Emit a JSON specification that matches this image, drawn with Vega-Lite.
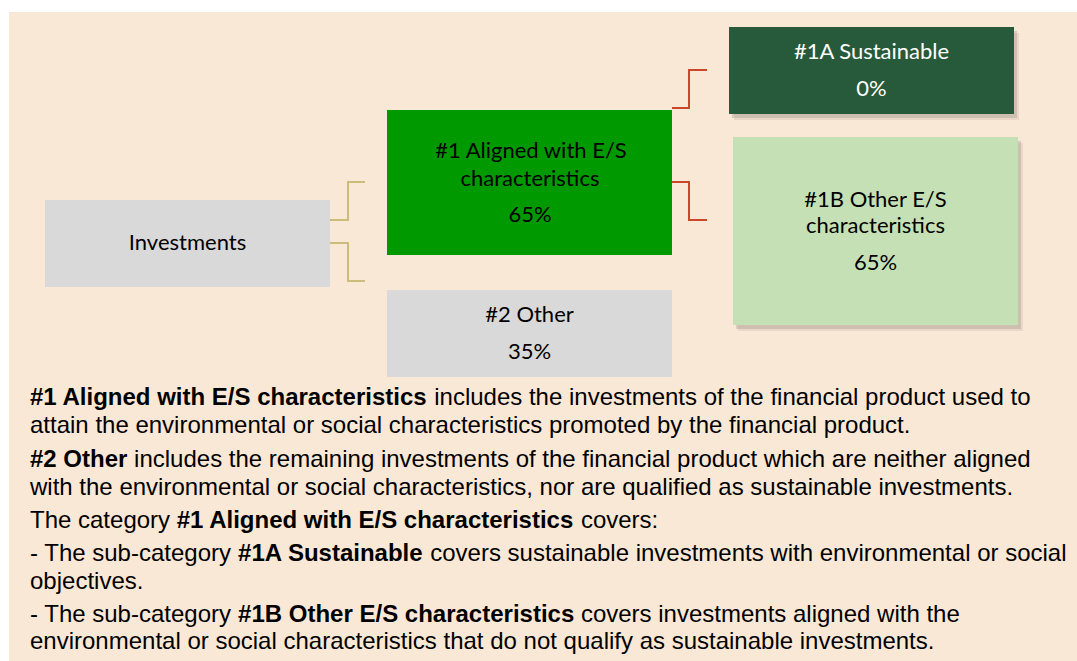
{
  "$schema": "https://vega.github.io/schema/vega-lite/v6.json",
  "width": 1077,
  "height": 661,
  "autosize": {"type": "none"},
  "padding": 0,
  "background": "white",
  "config": {"view": {"stroke": null}},
  "datasets": {
    "boxes": [
      {"box": "Panel", "x1": 9, "x2": 1077, "y1": 12, "y2": 661},
      {"box": "Investments", "x1": 45, "x2": 330, "y1": 200, "y2": 287},
      {"box": "Aligned", "x1": 387, "x2": 672, "y1": 110, "y2": 255},
      {"box": "Other", "x1": 387, "x2": 672, "y1": 290, "y2": 377},
      {"box": "Sustainable", "x1": 729, "x2": 1014, "y1": 27, "y2": 114},
      {"box": "OtherES", "x1": 733, "x2": 1018, "y1": 137, "y2": 325}
    ],
    "links": [
      {"path": "a", "link": "level1", "step": 1, "x": 330, "y": 220},
      {"path": "a", "link": "level1", "step": 2, "x": 348, "y": 220},
      {"path": "a", "link": "level1", "step": 3, "x": 348, "y": 182},
      {"path": "a", "link": "level1", "step": 4, "x": 365, "y": 182},
      {"path": "b", "link": "level1", "step": 1, "x": 330, "y": 243},
      {"path": "b", "link": "level1", "step": 2, "x": 348, "y": 243},
      {"path": "b", "link": "level1", "step": 3, "x": 348, "y": 281},
      {"path": "b", "link": "level1", "step": 4, "x": 365, "y": 281},
      {"path": "c", "link": "level2", "step": 1, "x": 672, "y": 108},
      {"path": "c", "link": "level2", "step": 2, "x": 689, "y": 108},
      {"path": "c", "link": "level2", "step": 3, "x": 689, "y": 70},
      {"path": "c", "link": "level2", "step": 4, "x": 707, "y": 70},
      {"path": "d", "link": "level2", "step": 1, "x": 672, "y": 182},
      {"path": "d", "link": "level2", "step": 2, "x": 689, "y": 182},
      {"path": "d", "link": "level2", "step": 3, "x": 689, "y": 220},
      {"path": "d", "link": "level2", "step": 4, "x": 707, "y": 220}
    ],
    "labels": [
      {"box": "Investments", "text": "Investments", "x": 187.5, "y": 250},
      {"box": "Aligned", "text": "#1 Aligned with E/S", "x": 531, "y": 158},
      {"box": "Aligned", "text": "characteristics", "x": 530, "y": 186},
      {"box": "Aligned", "text": "65%", "x": 530, "y": 222},
      {"box": "Other", "text": "#2 Other", "x": 529.5, "y": 322},
      {"box": "Other", "text": "35%", "x": 529.5, "y": 359},
      {"box": "Sustainable", "text": "#1A Sustainable", "x": 871.5, "y": 59},
      {"box": "Sustainable", "text": "0%", "x": 871.5, "y": 96},
      {"box": "OtherES", "text": "#1B Other E/S", "x": 875.5, "y": 207},
      {"box": "OtherES", "text": "characteristics", "x": 875.5, "y": 233},
      {"box": "OtherES", "text": "65%", "x": 875.5, "y": 270}
    ],
    "notes": [
      {"text": "#1 Aligned with E/S characteristics", "bold": true, "x": 30, "y": 405},
      {"text": "includes the investments of the financial product used to", "bold": false, "x": 434.2, "y": 405},
      {"text": "attain the environmental or social characteristics promoted by the financial product.", "bold": false, "x": 30, "y": 433},
      {"text": "#2 Other", "bold": true, "x": 30, "y": 467},
      {"text": "includes the remaining investments of the financial product which are neither aligned", "bold": false, "x": 134.1, "y": 467},
      {"text": "with the environmental or social characteristics, nor are qualified as sustainable investments.", "bold": false, "x": 30, "y": 495},
      {"text": "The category", "bold": false, "x": 30, "y": 528},
      {"text": "#1 Aligned with E/S characteristics", "bold": true, "x": 176.7, "y": 528},
      {"text": "covers:", "bold": false, "x": 580.9, "y": 528},
      {"text": "- The sub-category", "bold": false, "x": 30, "y": 561},
      {"text": "#1A Sustainable", "bold": true, "x": 238.1, "y": 561},
      {"text": "covers sustainable investments with environmental or social", "bold": false, "x": 430.2, "y": 561},
      {"text": "objectives.", "bold": false, "x": 30, "y": 589},
      {"text": "- The sub-category", "bold": false, "x": 30, "y": 622},
      {"text": "#1B Other E/S characteristics", "bold": true, "x": 238.1, "y": 622},
      {"text": "covers investments aligned with the", "bold": false, "x": 580.9, "y": 622},
      {"text": "environmental or social characteristics that do not qualify as sustainable investments.", "bold": false, "x": 30, "y": 649}
    ]
  },
  "resolve": {"scale": {"color": "independent"}},
  "layer": [
    {
      "data": {"name": "boxes"},
      "transform": [{"filter": "datum.box === 'Panel'"}],
      "mark": {"type": "rect"},
      "encoding": {
        "x": {"field": "x1", "type": "quantitative", "scale": {"domain": [0, 1077], "nice": false, "zero": false}, "axis": null},
        "x2": {"field": "x2"},
        "y": {"field": "y1", "type": "quantitative", "scale": {"domain": [0, 661], "nice": false, "zero": false, "reverse": true}, "axis": null},
        "y2": {"field": "y2"},
        "color": {"value": "#FAE8D7"}
      }
    },
    {
      "data": {"name": "boxes"},
      "transform": [{"filter": "datum.box === 'Sustainable' || datum.box === 'OtherES'"}],
      "mark": {"type": "rect", "xOffset": 5, "x2Offset": 5, "yOffset": 6, "y2Offset": 6, "color": "#8C7F74", "opacity": 0.15},
      "encoding": {
        "x": {"field": "x1", "type": "quantitative"},
        "x2": {"field": "x2"},
        "y": {"field": "y1", "type": "quantitative"},
        "y2": {"field": "y2"}
      }
    },
    {
      "data": {"name": "boxes"},
      "transform": [{"filter": "datum.box === 'Sustainable' || datum.box === 'OtherES'"}],
      "mark": {"type": "rect", "xOffset": 3, "x2Offset": 3, "yOffset": 4, "y2Offset": 4, "color": "#8C7F74", "opacity": 0.28},
      "encoding": {
        "x": {"field": "x1", "type": "quantitative"},
        "x2": {"field": "x2"},
        "y": {"field": "y1", "type": "quantitative"},
        "y2": {"field": "y2"}
      }
    },
    {
      "data": {"name": "boxes"},
      "transform": [{"filter": "datum.box !== 'Panel'"}],
      "mark": {"type": "rect"},
      "encoding": {
        "x": {"field": "x1", "type": "quantitative"},
        "x2": {"field": "x2"},
        "y": {"field": "y1", "type": "quantitative"},
        "y2": {"field": "y2"},
        "color": {
          "field": "box",
          "type": "nominal",
          "scale": {"domain": ["Investments", "Aligned", "Other", "Sustainable", "OtherES"], "range": ["#D9D9D9", "#009900", "#D9D9D9", "#265A3A", "#C5E0B4"]},
          "legend": null
        }
      }
    },
    {
      "data": {"name": "links"},
      "mark": {"type": "line", "strokeWidth": 2, "strokeJoin": "miter", "strokeCap": "butt"},
      "encoding": {
        "x": {"field": "x", "type": "quantitative"},
        "y": {"field": "y", "type": "quantitative"},
        "detail": {"field": "path"},
        "order": {"field": "step", "type": "quantitative"},
        "color": {
          "field": "link",
          "type": "nominal",
          "scale": {"domain": ["level1", "level2"], "range": ["#CBBC7A", "#C9472B"]},
          "legend": null
        }
      }
    },
    {
      "data": {"name": "labels"},
      "mark": {"type": "text", "font": "Lato", "fontSize": 22, "align": "center", "baseline": "alphabetic"},
      "encoding": {
        "x": {"field": "x", "type": "quantitative"},
        "y": {"field": "y", "type": "quantitative"},
        "text": {"field": "text"},
        "color": {"condition": {"test": "datum.box === 'Sustainable'", "value": "#FFFFFF"}, "value": "#000000"}
      }
    },
    {
      "data": {"name": "notes"},
      "transform": [{"filter": "datum.bold"}],
      "mark": {"type": "text", "font": "Liberation Sans", "fontSize": 24, "fontWeight": "bold", "align": "left", "baseline": "alphabetic", "color": "#000000"},
      "encoding": {
        "x": {"field": "x", "type": "quantitative"},
        "y": {"field": "y", "type": "quantitative"},
        "text": {"field": "text"}
      }
    },
    {
      "data": {"name": "notes"},
      "transform": [{"filter": "!datum.bold"}],
      "mark": {"type": "text", "font": "Liberation Sans", "fontSize": 24, "align": "left", "baseline": "alphabetic", "color": "#000000"},
      "encoding": {
        "x": {"field": "x", "type": "quantitative"},
        "y": {"field": "y", "type": "quantitative"},
        "text": {"field": "text"}
      }
    }
  ]
}
